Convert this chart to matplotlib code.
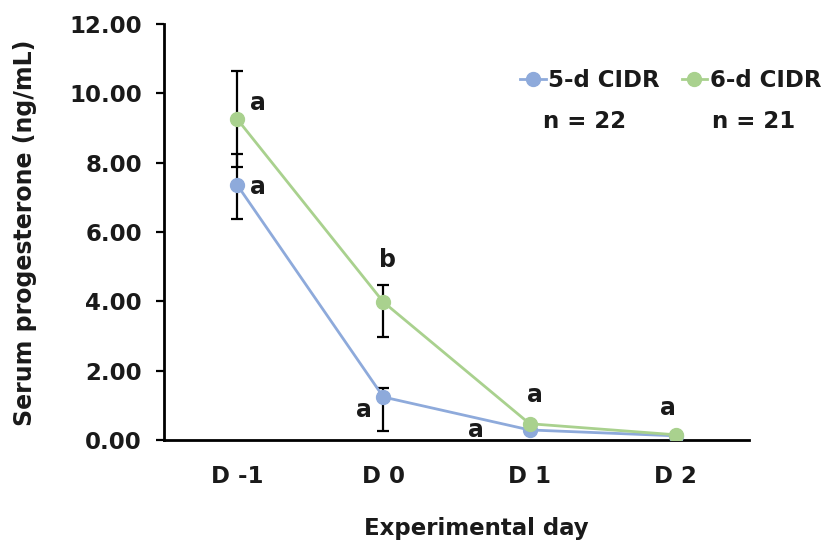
import matplotlib.pyplot as plt
from matplotlib.lines import Line2D

plt.rcParams['font.family'] = ['DejaVu Sans']
plt.rcParams['font.weight'] = 'bold'

days = ['D -1', 'D 0', 'D 1', 'D 2']
cidr5 = [7.36, 1.24, 0.29, 0.12]
cidr6 = [9.26, 3.98, 0.47, 0.15]
cidr5_lo = [0.99, 0.98, 0.08, 0.0]
cidr5_hi = [0.89, 0.26, 0.0, 0.0]
cidr6_lo = [1.38, 1.01, 0.0, 0.0]
cidr6_hi = [1.38, 0.49, 0.0, 0.0]
letters = ['a', 'a', 'b', 'a', 'a', 'a', 'a']
letter_x = [0.14, 0.145, 1.03, 0.87, 1.63, 2.04, 2.945]
letter_y = [9.72, 7.30, 5.19, 0.87, 0.29, 1.30, 0.92]

blue = '#8eaadb'
green = '#a9d18e'
ink = '#1a1a1a'

fig = plt.figure(figsize=(8.25, 5.41), dpi=100)
ax = fig.add_axes([0.1988, 0.1867, 0.709, 0.7689])

x = range(len(days))
ax.errorbar(x, cidr5, yerr=[cidr5_lo, cidr5_hi], fmt='none', ecolor='black',
            elinewidth=1.6, capsize=4, capthick=1.6, zorder=2)
ax.errorbar(x, cidr6, yerr=[cidr6_lo, cidr6_hi], fmt='none', ecolor='black',
            elinewidth=1.6, capsize=4, capthick=1.6, zorder=2)
ax.plot(x, cidr5, color=blue, lw=2, marker='o', ms=10, zorder=3)
ax.plot(x, cidr6, color=green, lw=2, marker='o', ms=10, zorder=4)

for t, lx, ly in zip(letters, letter_x, letter_y):
    ax.text(lx, ly, t, fontsize=17, fontweight='bold', ha='center', va='center', color=ink)

ax.set_xlim(-0.5, 3.5)
ax.set_ylim(0, 12)
ax.set_xticks(list(x))
ax.set_xticklabels(days)
ax.set_yticks([0, 2, 4, 6, 8, 10, 12])
ax.set_yticklabels(['%.2f' % v for v in [0, 2, 4, 6, 8, 10, 12]])
ax.tick_params(axis='x', length=0, labelsize=16.5, pad=18, colors=ink)
ax.tick_params(axis='y', length=6, width=1.6, labelsize=16.5, pad=10, colors=ink)
ax.tick_params(axis='both', color='black')
for s in ['top', 'right']:
    ax.spines[s].set_visible(False)
for s in ['left', 'bottom']:
    ax.spines[s].set_linewidth(2)

fig.text(0.030, 0.569, 'Serum progesterone (ng/mL)', fontsize=17, fontweight='bold',
         rotation=90, ha='center', va='center', color=ink)
fig.text(0.577, 0.024, 'Experimental day', fontsize=16.5, fontweight='bold', ha='center', va='center', color=ink)

handles = [Line2D([], [], color=blue, lw=2, marker='o', ms=10),
           Line2D([], [], color=green, lw=2, marker='o', ms=10)]
fig.legend(handles, ['5-d CIDR', '6-d CIDR'], loc='center left', bbox_to_anchor=(0.617, 0.852),
           ncol=2, frameon=False, fontsize=16.5, handlelength=1.1, handletextpad=0.12,
           columnspacing=0.95, borderpad=0, labelcolor=ink)
fig.text(0.709, 0.775, 'n = 22', fontsize=16.5, fontweight='bold', ha='center', va='center', color=ink)
fig.text(0.914, 0.775, 'n = 21', fontsize=16.5, fontweight='bold', ha='center', va='center', color=ink)

fig.savefig('out.png', dpi=100)
